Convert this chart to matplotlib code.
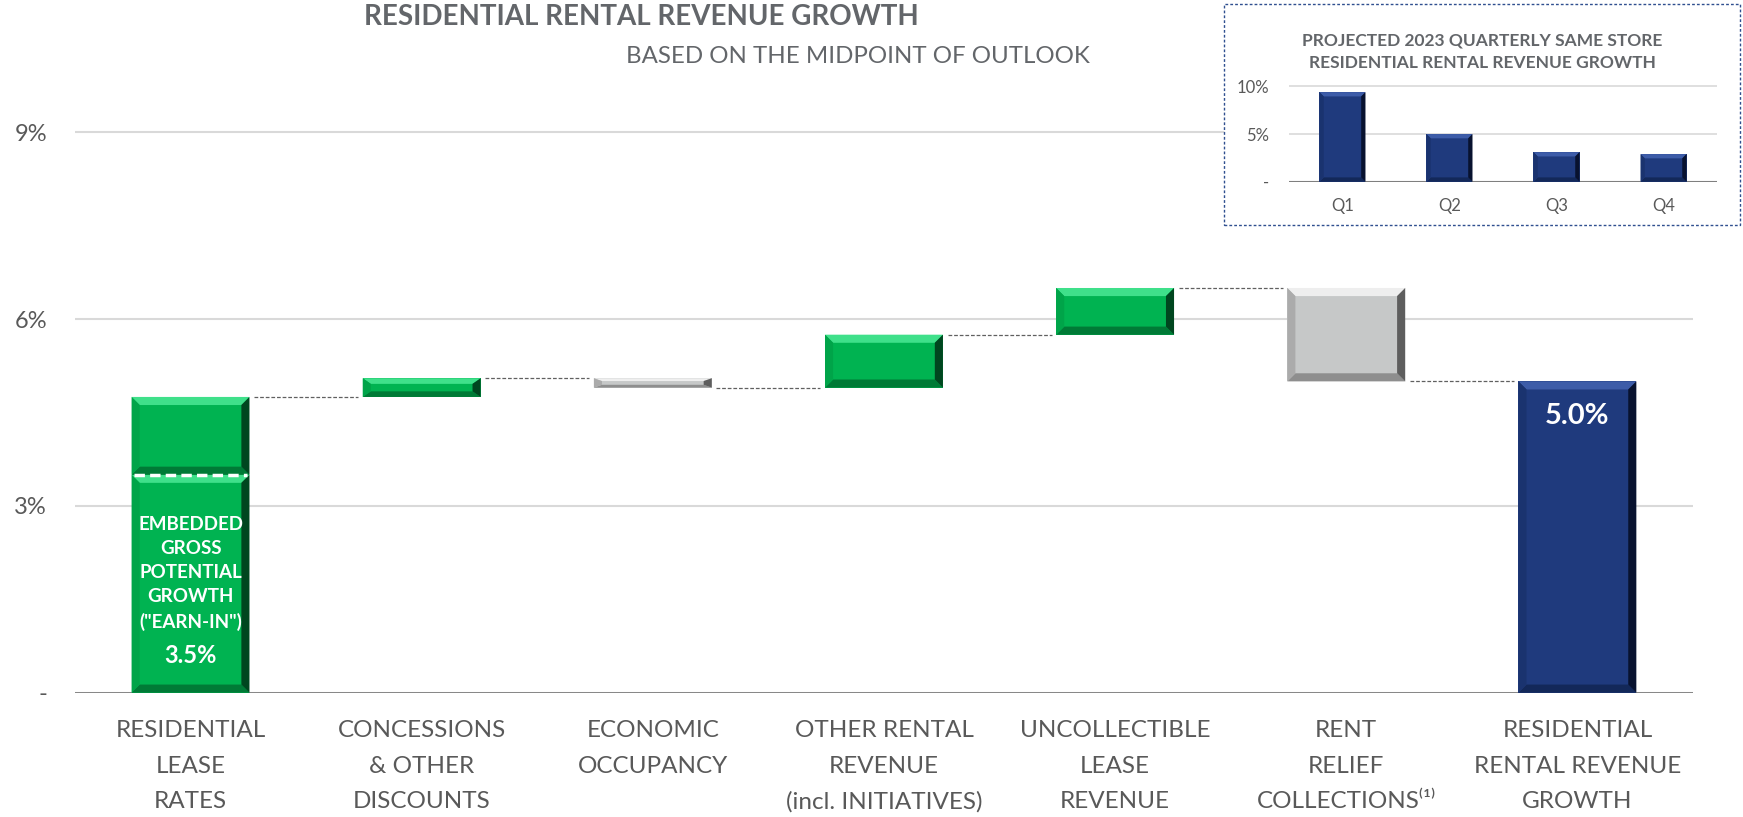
import matplotlib
matplotlib.use("Agg")
import matplotlib.pyplot as plt
from matplotlib.patches import Polygon, Rectangle

plt.rcParams['font.family'] = ['Lato', 'DejaVu Sans']

# ---------------- DATA ----------------
categories = [
    "RESIDENTIAL\nLEASE\nRATES",
    "CONCESSIONS\n& OTHER\nDISCOUNTS",
    "ECONOMIC\nOCCUPANCY",
    "OTHER RENTAL\nREVENUE\n(incl. INITIATIVES)",
    "UNCOLLECTIBLE\nLEASE\nREVENUE",
    "RENT\nRELIEF\nCOLLECTIONS\u207d\u00b9\u207e",
    "RESIDENTIAL\nRENTAL REVENUE\nGROWTH",
]
changes = [4.75, 0.30, -0.15, 0.85, 0.75, -1.50]   # step contributions, %
earn_in = 3.5
total_growth = 5.0

y_ticks = [0, 3, 6, 9]
y_tick_labels = ["-", "3%", "6%", "9%"]

quarters = ["Q1", "Q2", "Q3", "Q4"]
quarterly_growth = [9.4, 5.0, 3.1, 2.9]
inset_ticks = [0, 5, 10]
inset_tick_labels = ["-", "5%", "10%"]

# ---------------- COLOURS ----------------
TEXT = "#595959"
GREEN = dict(face="#00B351", top="#3FE08A", bottom="#007A36", left="#00A449", right="#00461F")
GREY = dict(face="#C6C8C8", top="#EEEEEE", bottom="#8E8E8E", left="#ABABAB", right="#5E5E5E")
NAVY = dict(face="#1F3A7D", top="#3D5CA8", bottom="#132859", left="#1A336F", right="#08122F")


def bevel_bar(ax, x, y0, y1, width, c, bx, by):
    lo, hi = min(y0, y1), max(y0, y1)
    ax.bar(x, hi - lo, width, bottom=lo, color=c["face"], zorder=3, linewidth=0)
    by = min(by, (hi - lo) * 0.3)
    x0, x1 = x - width / 2, x + width / 2
    faces = [
        ([(x0, hi), (x1, hi), (x1 - bx, hi - by), (x0 + bx, hi - by)], c["top"]),
        ([(x0, lo), (x1, lo), (x1 - bx, lo + by), (x0 + bx, lo + by)], c["bottom"]),
        ([(x0, lo), (x0 + bx, lo + by), (x0 + bx, hi - by), (x0, hi)], c["left"]),
        ([(x1, lo), (x1 - bx, lo + by), (x1 - bx, hi - by), (x1, hi)], c["right"]),
    ]
    for pts, col in faces:
        ax.add_patch(Polygon(pts, closed=True, facecolor=col, edgecolor="none", zorder=4))


fig = plt.figure(figsize=(17.43, 8.17), dpi=100)

# ---------------- MAIN WATERFALL ----------------
ax = fig.add_axes([0.043, 0.1522, 0.9283, 0.8001])
n = len(categories)
xs = list(range(n))
bar_w = 0.51
bx, by = 0.035, 0.13

levels = []
running = 0.0
for i, ch in enumerate(changes):
    start = running
    running = running + ch
    levels.append(running)
    if i == 0:
        bevel_bar(ax, xs[i], 0, earn_in, bar_w, GREEN, bx, by)
        bevel_bar(ax, xs[i], earn_in, running, bar_w, GREEN, bx, by)
        ax.plot([xs[i] - bar_w / 2 + 0.01, xs[i] + bar_w / 2 - 0.01], [earn_in, earn_in],
                color="white", lw=2.5, ls=(0, (3, 1.5)), zorder=5)
    else:
        bevel_bar(ax, xs[i], start, running, bar_w, GREEN if ch > 0 else GREY, bx, by)
bevel_bar(ax, xs[-1], 0, total_growth, bar_w, NAVY, bx, by)
levels.append(total_growth)

# connectors
for i in range(n - 1):
    ax.plot([xs[i] + bar_w / 2 + 0.02, xs[i + 1] - bar_w / 2 - 0.02], [levels[i], levels[i]],
            color="#606060", lw=0.9, ls=(0, (3, 1.5)), zorder=2)

ax.text(xs[0], 1.91, "EMBEDDED\nGROSS\nPOTENTIAL\nGROWTH\n(\"EARN-IN\")", ha="center", va="center",
        color="white", fontsize=13.5, fontweight="bold", linespacing=1.5, zorder=6)
ax.text(xs[0], 0.6, f"{earn_in:.1f}%", ha="center", va="center", color="white",
        fontsize=17, fontweight="bold", zorder=6)
ax.text(xs[-1], total_growth - 0.55, f"{total_growth:.1f}%", ha="center", va="center",
        color="white", fontsize=21, fontweight="bold", zorder=6)

ax.set_xlim(-0.5, n - 0.5)
ax.set_ylim(0, 10.5)
ax.set_xticks(xs)
ax.set_xticklabels(categories, fontsize=17.5, color=TEXT, linespacing=1.84)
ax.set_yticks(y_ticks)
ax.set_yticklabels(y_tick_labels, fontsize=17, color=TEXT)
ax.tick_params(axis="both", length=0)
ax.tick_params(axis="x", pad=20)
ax.tick_params(axis="y", pad=20)
for s in ax.spines.values():
    s.set_visible(False)
ax.yaxis.grid(True, color="#D9D9D9", lw=1.5)
ax.set_axisbelow(True)
ax.axhline(0, color="#7F7F7F", lw=2, zorder=2)

fig.text(0.368, 0.979, "RESIDENTIAL RENTAL REVENUE GROWTH", ha="center", va="center",
         fontsize=20, fontweight="bold", color="#63666A")
fig.text(0.492, 0.931, "BASED ON THE MIDPOINT OF OUTLOOK", ha="center", va="center",
         fontsize=17.3, color="#63666A")

# ---------------- INSET ----------------
fig.patches.append(Rectangle((1224 / 1743, 1 - 225 / 817), 516 / 1743, 221 / 817,
                             transform=fig.transFigure, facecolor="white", edgecolor="#2F4F8F",
                             lw=1, ls=(0, (2, 1.5)), zorder=5))
ins = fig.add_axes([0.7395, 0.7776, 0.2456, 0.1283])
ins.set_zorder(6)
ins.patch.set_visible(False)
qx = list(range(len(quarters)))
for i, v in enumerate(quarterly_growth):
    bevel_bar(ins, qx[i], 0, v, 0.43, NAVY, 0.04, 0.45)
ins.set_xlim(-0.5, len(quarters) - 0.5)
ins.set_ylim(0, 11)
ins.set_xticks(qx)
ins.set_xticklabels(quarters, fontsize=12, color=TEXT)
ins.set_yticks(inset_ticks)
ins.set_yticklabels(inset_tick_labels, fontsize=12, color=TEXT)
ins.tick_params(axis="both", length=0)
ins.tick_params(axis="x", pad=12)
ins.tick_params(axis="y", pad=14)
for s in ins.spines.values():
    s.set_visible(False)
ins.yaxis.grid(True, color="#D9D9D9", lw=1.2)
ins.set_axisbelow(True)
ins.axhline(0, color="#7F7F7F", lw=1.5, zorder=2)
fig.text(0.8503, 0.937, "PROJECTED 2023 QUARTERLY SAME STORE\nRESIDENTIAL RENTAL REVENUE GROWTH",
         ha="center", va="center", fontsize=12.5, fontweight="bold", color="#63666A",
         linespacing=1.5, zorder=7)

fig.savefig("out.png", dpi=100)
